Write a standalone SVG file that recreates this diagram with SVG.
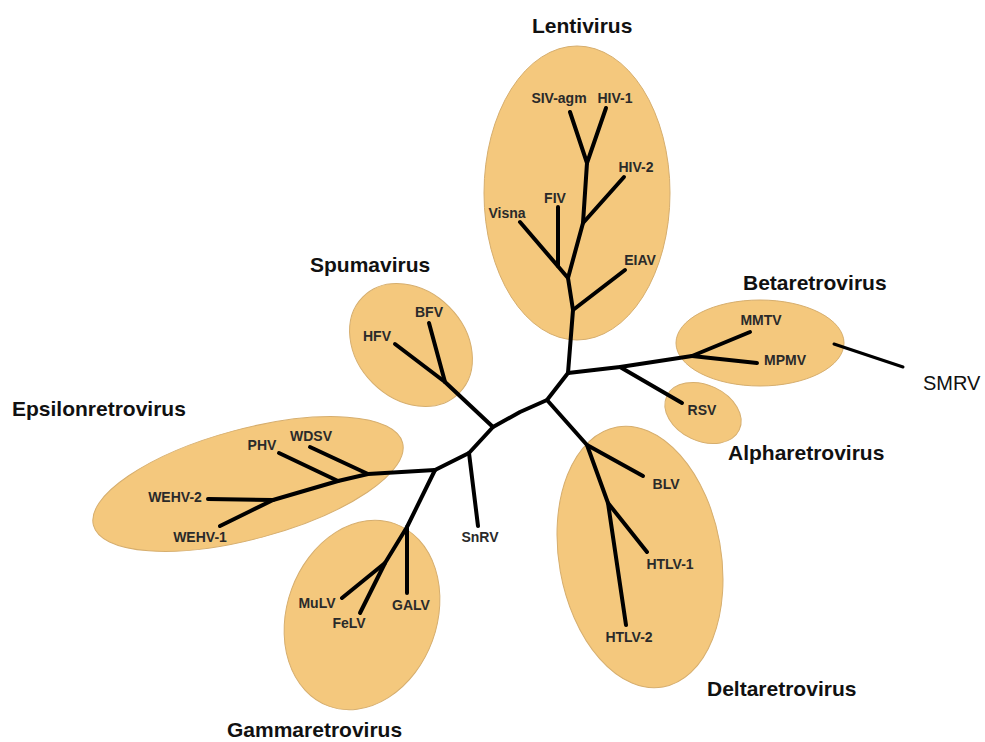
<svg xmlns="http://www.w3.org/2000/svg" width="985" height="742" viewBox="0 0 985 742">
<style>
.clade{fill:#F4C87D;stroke:#D6AE6E;stroke-width:1}
.br{fill:none;stroke:#000;stroke-width:4;stroke-linecap:round;stroke-linejoin:round}
.lbl{font-family:"Liberation Sans",Arial,sans-serif;font-weight:bold;font-size:14px;fill:#2a2a2a;text-anchor:middle}
.title{font-family:"Liberation Sans",Arial,sans-serif;font-weight:bold;font-size:21px;fill:#111}
.plain{font-family:"Liberation Sans",Arial,sans-serif;font-size:20px;fill:#111}
</style>
<rect width="985" height="742" fill="#fff"/>
<g id="lentivirus">
<ellipse class="clade" cx="577" cy="193" rx="93" ry="147"/>
<text class="title" x="532" y="33">Lentivirus</text>
</g>
<g id="spumavirus">
<ellipse class="clade" cx="411" cy="345" rx="68" ry="54" transform="rotate(45 411 345)"/>
<text class="title" x="310" y="272">Spumavirus</text>
</g>
<g id="betaretrovirus">
<ellipse class="clade" cx="760" cy="343" rx="84" ry="43"/>
<text class="title" x="743" y="290">Betaretrovirus</text>
</g>
<g id="alpharetrovirus">
<ellipse class="clade" cx="703" cy="413" rx="40" ry="28" transform="rotate(25 703 413)"/>
<text class="title" x="728" y="460">Alpharetrovirus</text>
</g>
<g id="epsilonretrovirus">
<ellipse class="clade" cx="248" cy="484" rx="160" ry="55" transform="rotate(-15 248 484)"/>
<text class="title" x="12" y="416">Epsilonretrovirus</text>
</g>
<g id="gammaretrovirus">
<ellipse class="clade" cx="362" cy="615" rx="75" ry="97" transform="rotate(20 362 615)"/>
<text class="title" x="227" y="737">Gammaretrovirus</text>
</g>
<g id="deltaretrovirus">
<ellipse class="clade" cx="640" cy="557" rx="81" ry="132" transform="rotate(-10 640 557)"/>
<text class="title" x="707" y="696">Deltaretrovirus</text>
</g>
<g id="connectors">
<polyline class="br" points="568,373 547,400 520,412 493,427 469,453 435,470"/>
<polyline class="br" points="568,373 573,310 568,278 583,223 587,163 570,112"/>
<line class="br" x1="587" y1="163" x2="606" y2="108"/>
<line class="br" x1="583" y1="223" x2="624" y2="177"/>
<line class="br" x1="568" y1="278" x2="520" y2="222"/>
<line class="br" x1="558" y1="266" x2="558" y2="207"/>
<line class="br" x1="573" y1="310" x2="625" y2="270"/>
<polyline class="br" points="568,373 620,367 692,356 750,332"/>
<line class="br" x1="692" y1="356" x2="757" y2="363"/>
<line class="br" x1="620" y1="367" x2="682" y2="403"/>
<line class="br" x1="834" y1="344" x2="903" y2="367" style="stroke-width:3"/>
<polyline class="br" points="493,427 445,382 395,344"/>
<line class="br" x1="445" y1="382" x2="429" y2="323"/>
<polyline class="br" points="547,400 587,445 608,503 626,625"/>
<line class="br" x1="587" y1="445" x2="643" y2="476"/>
<line class="br" x1="608" y1="503" x2="647" y2="552"/>
<line class="br" x1="469" y1="453" x2="478" y2="526"/>
<polyline class="br" points="435,470 368,474 338,481 273,500 208,499"/>
<line class="br" x1="273" y1="500" x2="220" y2="526"/>
<line class="br" x1="338" y1="481" x2="279" y2="453"/>
<line class="br" x1="368" y1="474" x2="310" y2="447"/>
<polyline class="br" points="435,470 407,527 385,563 342,598"/>
<line class="br" x1="385" y1="563" x2="360" y2="613"/>
<line class="br" x1="407" y1="527" x2="407" y2="593"/>
</g>
<g id="labels">
<text class="lbl" x="559" y="103">SIV-agm</text>
<text class="lbl" x="615" y="103">HIV-1</text>
<text class="lbl" x="636" y="172">HIV-2</text>
<text class="lbl" x="555" y="203">FIV</text>
<text class="lbl" x="507" y="218">Visna</text>
<text class="lbl" x="640" y="265">EIAV</text>
<text class="lbl" x="429" y="317">BFV</text>
<text class="lbl" x="377" y="341">HFV</text>
<text class="lbl" x="761" y="325">MMTV</text>
<text class="lbl" x="785" y="365">MPMV</text>
<text class="lbl" x="702" y="415">RSV</text>
<text class="lbl" x="666" y="489">BLV</text>
<text class="lbl" x="670" y="569">HTLV-1</text>
<text class="lbl" x="629" y="642">HTLV-2</text>
<text class="lbl" x="262" y="450">PHV</text>
<text class="lbl" x="311" y="441">WDSV</text>
<text class="lbl" x="175" y="502">WEHV-2</text>
<text class="lbl" x="200" y="542">WEHV-1</text>
<text class="lbl" x="480" y="542">SnRV</text>
<text class="lbl" x="317" y="608">MuLV</text>
<text class="lbl" x="349" y="628">FeLV</text>
<text class="lbl" x="411" y="610">GALV</text>
<text class="plain" x="923" y="390">SMRV</text>
</g>
</svg>
